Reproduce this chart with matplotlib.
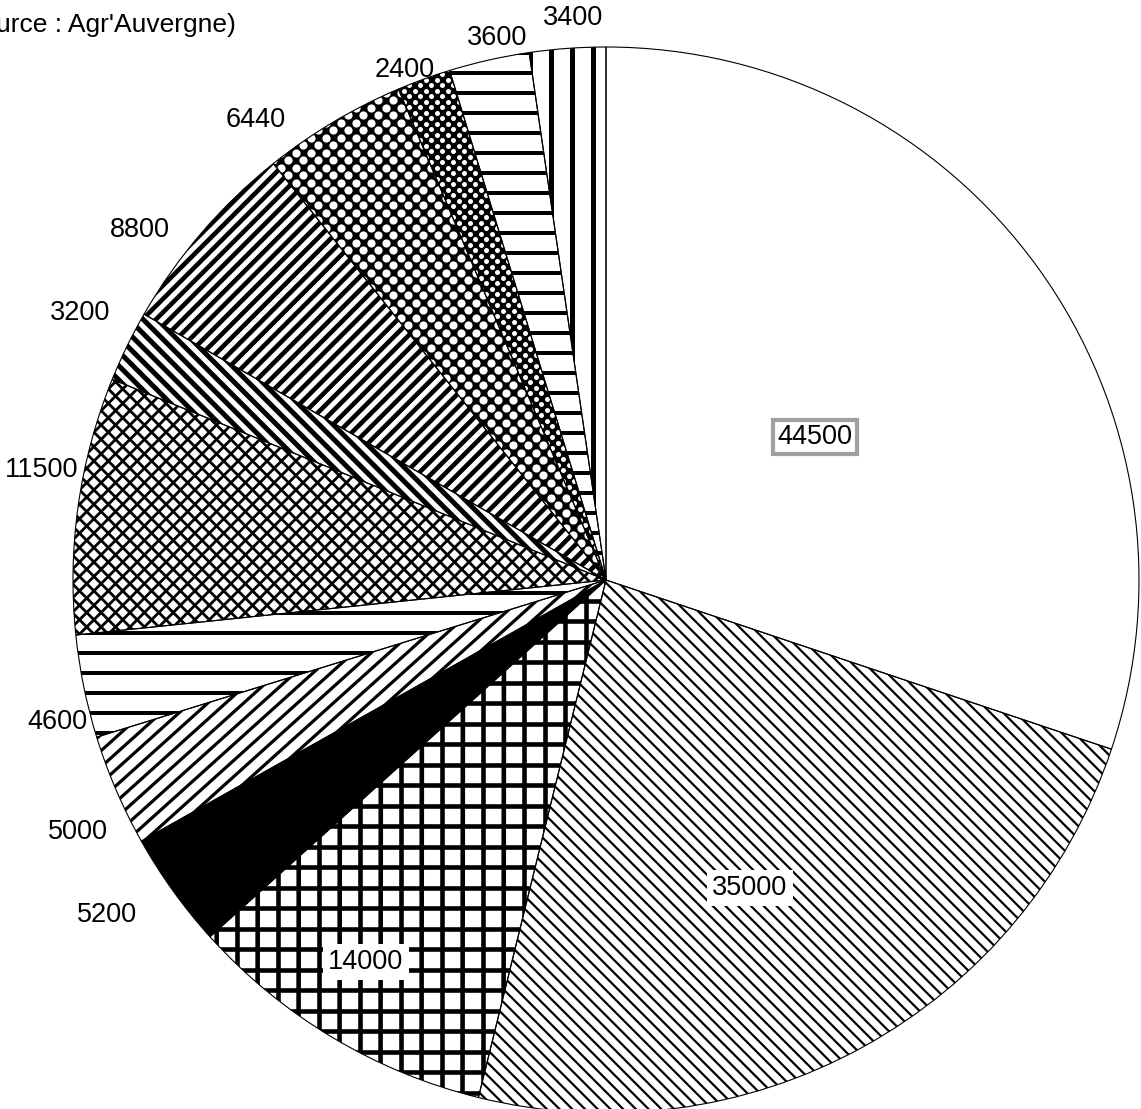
import numpy as np
import matplotlib
matplotlib.use('Agg')
import matplotlib.pyplot as plt
from matplotlib.collections import LineCollection
from matplotlib.patches import Wedge

plt.rcParams['font.family'] = ['Liberation Sans', 'DejaVu Sans']

# data, in pie order (clockwise from 12 o'clock)
values = [44500, 35000, 14000, 5200, 5000, 4600, 11500, 3200, 8800, 6440, 2400, 3600, 3400]
labels = [str(v) for v in values]
source = "(Source : Agr'Auvergne)"

# label centres in pixels (x from left, y from top)
label_xy = [(815, 437), (750, 888), (366, 962), (107, 915), (78, 832), (57, 722),
            (42, 470), (80, 313), (140, 230), (256, 120), (405, 70), (497, 38), (573, 18)]
inside = {0: 'grey', 1: 'plain', 2: 'plain'}

# fill style per slice: (kind, params)
styles = [
    ('none', None),
    ('lines', [(-45, 9.0, 2.2)]),
    ('lines', [(0, 20.5, 4.6), (90, 20.5, 4.6)]),
    ('solid', None),
    ('lines', [(42, 12, 3.2)]),
    ('lines', [(0, 20, 4)]),
    ('lines', [(45, 10.2, 2.8), (-45, 10.2, 2.8)]),
    ('lines', [(-45, 10, 5)]),
    ('lines', [(45, 9.5, 4.6)]),
    ('dots', (7.5, 8.2)),
    ('dots', (5.5, 5.0)),
    ('lines', [(0, 20, 4)]),
    ('lines', [(90, 21, 5)]),
]

W, H, DPI = 1141, 1109, 100
CX, CY, R = 606, -580, 533


def px2pt(px):
    return px * 72.0 / DPI


def add_stripes(ax, wedge, angle, spacing, lw):
    th = np.deg2rad(angle)
    d = np.array([np.cos(th), np.sin(th)])
    n = np.array([-np.sin(th), np.cos(th)])
    c = np.array(wedge.center)
    offs = np.arange(-R - spacing, R + spacing, spacing)
    segs = [[c + o * n - (R + 5) * d, c + o * n + (R + 5) * d] for o in offs]
    lc = LineCollection(segs, colors='black', linewidths=px2pt(lw), capstyle='butt', zorder=2)
    ax.add_collection(lc)
    lc.set_clip_path(wedge)


def add_dots(ax, wedge, pitch, size):
    ext = wedge.get_path().get_extents()
    xs = np.arange(ext.x0 - pitch, ext.x1 + pitch, pitch)
    ys = np.arange(ext.y0 - pitch, ext.y1 + pitch, pitch)
    gx, gy = np.meshgrid(np.arange(len(xs)), np.arange(len(ys)))
    keep = (gx + gy) % 2 == 0
    px = xs[gx[keep]]
    py = ys[gy[keep]]
    sc = ax.scatter(px, py, s=px2pt(size) ** 2, c='white', marker='o', linewidths=0, zorder=2)
    sc.set_clip_path(wedge)


fig = plt.figure(figsize=(W / DPI, H / DPI), dpi=DPI)
ax = fig.add_axes([0, 0, 1, 1])

wedges, _ = ax.pie(values, radius=R, center=(CX, CY), startangle=90, counterclock=False,
                   wedgeprops=dict(facecolor='white', edgecolor='none', linewidth=0))
ax.set_xlim(0, W)
ax.set_ylim(-H, 0)
ax.set_aspect('auto')
ax.axis('off')

for w, (kind, p) in zip(wedges, styles):
    if kind == 'solid':
        w.set_facecolor('black')
    elif kind == 'lines':
        for ang, sp, lw in p:
            add_stripes(ax, w, ang, sp, lw)
    elif kind == 'dots':
        w.set_facecolor('black')
        add_dots(ax, w, p[0], p[1])
    # outline on top
    ax.add_patch(Wedge(w.center, w.r, w.theta1, w.theta2, fill=False,
                       edgecolor='black', linewidth=0.8, zorder=4))

for i, (lab, (x, y)) in enumerate(zip(labels, label_xy)):
    kw = {}
    if inside.get(i) == 'grey':
        kw['bbox'] = dict(boxstyle='square,pad=0.15', facecolor='white', edgecolor='#a0a0a0', linewidth=3)
    elif inside.get(i) == 'plain':
        kw['bbox'] = dict(boxstyle='square,pad=0.2', facecolor='white', edgecolor='none')
    ax.text(x, -y, lab, fontsize=19.5, ha='center', va='center', color='black', zorder=6, **kw)

# the source line is cropped at the left edge in the original
ax.text(236, -25, source, fontsize=19, ha='right', va='center', color='black', zorder=6)

fig.savefig('out.png', dpi=DPI, facecolor='white')
